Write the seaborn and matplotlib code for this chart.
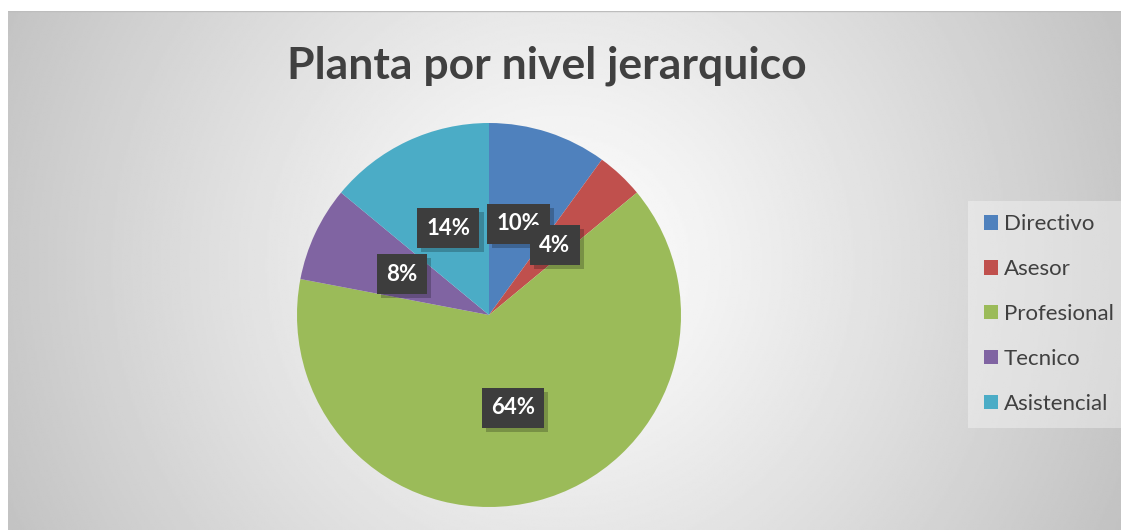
import numpy as np
import matplotlib
matplotlib.use("Agg")
import matplotlib.pyplot as plt
import matplotlib.patheffects as pe
from matplotlib.patches import Rectangle
import seaborn as sns

# ---- data ----
categories = ["Directivo", "Asesor", "Profesional", "Tecnico", "Asistencial"]
shares = [10, 4, 64, 8, 14]
colors = ["#4F81BD", "#C0504D", "#9BBB59", "#8064A2", "#4BACC6"]
title = "Planta por nivel jerarquico"

sns.set_theme(style="white")
plt.rcParams["font.family"] = ["Lato", "DejaVu Sans"]
palette = sns.color_palette(colors)

W, H = 1121, 530
fig = plt.figure(figsize=(W / 100, H / 100), dpi=100)
fig.patch.set_facecolor("white")

# background radial gradient (chart area)
bg = fig.add_axes([8 / W, 0, (W - 8) / W, (H - 11) / H])
bg.set_axis_off()
nx, ny = 600, 300
xs = np.linspace(8, W, nx)
ys = np.linspace(11, H, ny)
X, Y = np.meshgrid(xs, ys)
cx, cy = 560, 265
d = np.sqrt((X - cx) ** 2 + (Y - cy) ** 2) / np.sqrt((W - cx) ** 2 + (H - cy) ** 2)
d = np.clip(d, 0, 1)
val = 1 - 0.24 * d ** 1.1
bg.imshow(val, cmap="gray", vmin=0, vmax=1, aspect="auto", extent=(0, 1, 0, 1), origin="upper")
bg.set_xlim(0, 1)
bg.set_ylim(0, 1)
bg.add_line(plt.Line2D([0, 1], [1, 1], color="#bdbdbd", lw=1, transform=bg.transAxes))

# legend background box
fig.patches.append(Rectangle((968 / W, (H - 428) / H), (W - 968) / W, (428 - 201) / H,
                             transform=fig.transFigure, facecolor="white", alpha=0.35,
                             edgecolor="none", zorder=1))

# pie
cxp, cyp, r = 489, 315, 192
ax = fig.add_axes([(cxp - r) / W, (H - cyp - r) / H, 2 * r / W, 2 * r / H])
wedges, texts, autotexts = ax.pie(
    shares, colors=palette, startangle=90, counterclock=False,
    autopct=lambda p: f"{p:.0f}%", pctdistance=0.5,
    wedgeprops=dict(linewidth=0),
    textprops=dict(color="white", fontsize=16, fontweight="bold"),
)
ax.set_xlim(-1, 1)
ax.set_ylim(-1, 1)
ax.set_aspect("auto")
ax.set_axis_off()

for t in autotexts:
    t.set_bbox(dict(boxstyle="square,pad=0.42", facecolor="#3d3d3d", edgecolor="none", linewidth=0))
    t.get_bbox_patch().set_path_effects([
        pe.SimplePatchShadow(offset=(3, -3), shadow_rgbFace="black", alpha=0.22),
        pe.Normal(),
    ])

# title
fig.text(547 / W, (H - 78) / H, title, ha="center", va="baseline",
         fontsize=32, fontweight="bold", color="#404040")

# legend
fig.legend(wedges, categories, loc="center left",
           bbox_to_anchor=(973 / W, (H - 314) / H), frameon=False,
           fontsize=16, handlelength=0.63, handleheight=0.63,
           handletextpad=0.27, labelspacing=1.12, borderpad=0,
           labelcolor="#404040")

fig.savefig("out.png", dpi=100)
